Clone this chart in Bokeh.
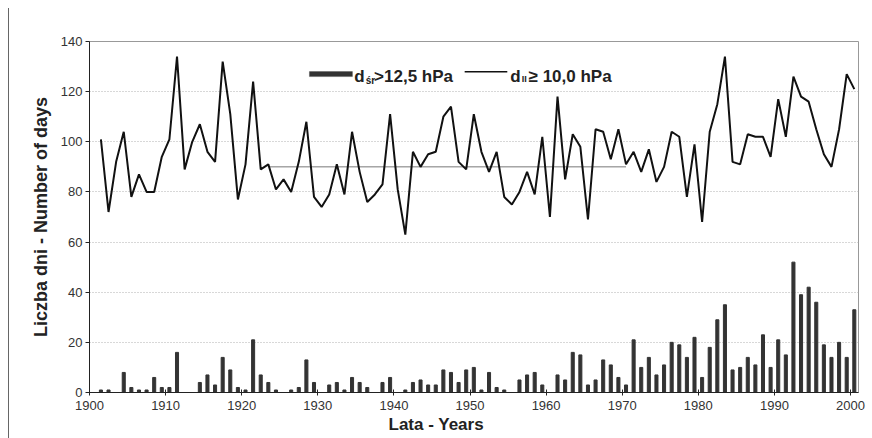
from bokeh.plotting import figure
from bokeh.models import Range1d, FixedTicker, Label, BoxAnnotation, Title, ColumnDataSource
from bokeh.transform import dodge
from bokeh.embed import file_html
from bokeh.resources import INLINE

years = list(range(1901, 2001))

# d_sr > 12,5 hPa (bars)
d_sr = [1, 1, 0, 8, 2, 1, 1, 6, 2, 2,
        16, 0, 0, 4, 7, 3, 14, 9, 2, 1,
        21, 7, 4, 1, 0, 1, 2, 13, 4, 0,
        3, 4, 1, 6, 4, 2, 0, 4, 6, 0,
        1, 4, 5, 3, 3, 9, 8, 4, 9, 10,
        1, 8, 2, 1, 0, 5, 7, 8, 3, 0,
        7, 5, 16, 15, 3, 5, 13, 11, 6, 3,
        21, 10, 14, 7, 11, 20, 19, 14, 22, 6,
        18, 29, 35, 9, 10, 14, 11, 23, 10, 21,
        15, 52, 39, 42, 36, 19, 14, 20, 14, 33]

# d_II >= 10,0 hPa (line)
d_ii = [101, 72, 92, 104, 78, 87, 80, 80, 94, 101,
        134, 89, 100, 107, 96, 92, 132, 111, 77, 91,
        124, 89, 91, 81, 85, 80, 92, 108, 78, 74,
        79, 91, 79, 104, 88, 76, 79, 83, 111, 81,
        63, 96, 90, 95, 96, 110, 114, 92, 89, 111,
        96, 88, 96, 78, 75, 80, 88, 79, 102, 70,
        118, 85, 103, 98, 69, 105, 104, 93, 105, 91,
        96, 88, 97, 84, 90, 104, 102, 78, 99, 68,
        104, 115, 134, 92, 91, 103, 102, 102, 94, 117,
        102, 126, 118, 116, 105, 95, 90, 105, 127, 121]

mean_years = [1923, 1970]
mean_values = [90, 90]

x_ticks = list(range(1900, 2001, 10))
y_ticks = list(range(0, 141, 20))

FONT = "Liberation Sans"

src = ColumnDataSource(dict(year=years, d_sr=d_sr, d_ii=d_ii))
msrc = ColumnDataSource(dict(year=mean_years, val=mean_values))

p = figure(width=863, height=430, output_backend="svg", toolbar_location=None,
           x_range=Range1d(1900, 2001.05), y_range=Range1d(0, 140),
           min_border_left=80, min_border_right=14, min_border_top=33, min_border_bottom=46)
p.styles = {"margin-left": "8px", "margin-top": "8px", "border-left": "1px solid #666666"}

p.outline_line_color = "#999999"
p.outline_line_width = 1
p.background_fill_color = "white"
p.border_fill_color = "white"

p.xgrid.grid_line_color = None
p.ygrid.grid_line_color = "#b0b0b0"
p.ygrid.grid_line_dash = "1 2"
p.ygrid.grid_line_width = 1

p.xaxis.ticker = FixedTicker(ticks=x_ticks)
p.yaxis.ticker = FixedTicker(ticks=y_ticks)
p.xaxis.minor_tick_line_color = None
p.yaxis.minor_tick_line_color = None
p.xaxis.major_tick_in = 3
p.xaxis.major_tick_out = 3
p.yaxis.major_tick_in = 0
p.yaxis.major_tick_out = 4
for ax in (p.xaxis, p.yaxis):
    ax.axis_line_color = "#222222"
    ax.axis_line_width = 1
    ax.major_tick_line_color = "#222222"
    ax.major_label_text_font = FONT
    ax.major_label_text_font_size = "13px"
    ax.major_label_text_color = "#333333"
p.xaxis.major_label_standoff = 5
p.yaxis.major_label_standoff = 3

p.yaxis.axis_label = "Liczba dni - Number of days"
p.yaxis.axis_label_text_font = FONT
p.yaxis.axis_label_text_font_style = "bold"
p.yaxis.axis_label_text_font_size = "18px"
p.yaxis.axis_label_text_color = "#222222"
p.yaxis.axis_label_standoff = 7

xt = Title(text="Lata - Years", align="left", offset=299, text_font=FONT,
           text_font_size="17px", text_font_style="bold", text_color="#222222", standoff=0)
p.add_layout(xt, "below")

# bars and line
p.vbar(x=dodge("year", 0.5, range=p.x_range), top="d_sr", width=0.4, bottom=0,
       source=src, fill_color="#333333", line_color="#333333")
p.line(x=dodge("year", 0.5, range=p.x_range), y="val", source=msrc,
       line_color="#777777", line_width=1)
p.line(x=dodge("year", 0.5, range=p.x_range), y="d_ii", source=src,
       line_color="#111111", line_width=2)

# legend (manual, with subscripts)
p.add_layout(BoxAnnotation(left=1928.9, right=1934.55, bottom=126, top=128,
                           fill_color="#333333", fill_alpha=1, line_color="#333333"))
p.segment(x0=[1949.3], y0=[127.9], x1=[1954.9], y1=[127.9], line_color="#111111", line_width=1.5)

def lab(x, y, t, size):
    p.add_layout(Label(x=x, y=y, text=t, text_font=FONT, text_font_size=size,
                       text_font_style="bold", text_color="#222222",
                       text_align="left", text_baseline="alphabetic"))

lab(1934.8, 126.1, "d", "17px")
lab(1936.3, 124.4, "śr", "10px")
lab(1937.4, 126.1, ">12,5 hPa", "17px")
lab(1955.3, 126.1, "d", "17px")
lab(1956.8, 125.0, "II", "9px")
lab(1957.7, 126.1, "≥ 10,0 hPa", "17px")

open("out.html", "w").write(file_html(p, INLINE))
